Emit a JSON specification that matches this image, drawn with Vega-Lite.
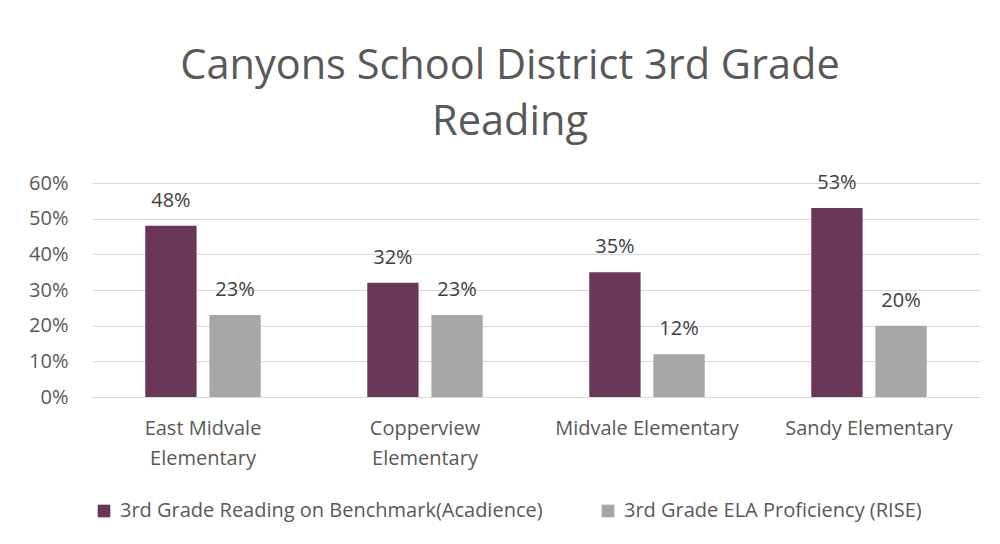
{
  "$schema": "https://vega.github.io/schema/vega-lite/v6.json",
  "autosize": {"type": "none"},
  "width": 888,
  "height": 214,
  "padding": {"left": 92, "top": 183, "right": 20, "bottom": 147},
  "background": "white",
  "title": {
    "text": ["Canyons School District 3rd Grade", "Reading"],
    "font": "Open Sans",
    "fontSize": 41.5,
    "fontWeight": "normal",
    "color": "#595959",
    "lineHeight": 56,
    "dx": -26,
    "offset": 29
  },
  "data": {
    "values": [
      {"school": "East Midvale Elementary", "series": "3rd Grade Reading on Benchmark(Acadience)", "value": 0.48},
      {"school": "East Midvale Elementary", "series": "3rd Grade ELA Proficiency (RISE)", "value": 0.23},
      {"school": "Copperview Elementary", "series": "3rd Grade Reading on Benchmark(Acadience)", "value": 0.32},
      {"school": "Copperview Elementary", "series": "3rd Grade ELA Proficiency (RISE)", "value": 0.23},
      {"school": "Midvale Elementary", "series": "3rd Grade Reading on Benchmark(Acadience)", "value": 0.35},
      {"school": "Midvale Elementary", "series": "3rd Grade ELA Proficiency (RISE)", "value": 0.12},
      {"school": "Sandy Elementary", "series": "3rd Grade Reading on Benchmark(Acadience)", "value": 0.53},
      {"school": "Sandy Elementary", "series": "3rd Grade ELA Proficiency (RISE)", "value": 0.20}
    ]
  },
  "encoding": {
    "x": {
      "field": "school",
      "type": "nominal",
      "sort": null,
      "scale": {"paddingInner": 0.48, "paddingOuter": 0.24},
      "axis": {
        "title": null,
        "labelAngle": 0,
        "labelFont": "Open Sans",
        "labelFontSize": 20,
        "labelColor": "#595959",
        "labelPadding": 21,
        "labelLineHeight": 30,
        "labelBaseline": "top",
        "labelLimit": 260,
        "ticks": false,
        "domainColor": "#d9d9d9",
        "domainWidth": 1,
        "labelExpr": "length(datum.label) > 20 ? [substring(datum.label, 0, lastindexof(datum.label, ' ')), substring(datum.label, lastindexof(datum.label, ' ') + 1)] : datum.label"
      }
    },
    "xOffset": {
      "field": "series",
      "type": "nominal",
      "sort": ["3rd Grade Reading on Benchmark(Acadience)", "3rd Grade ELA Proficiency (RISE)"],
      "scale": {"paddingInner": 0.2, "paddingOuter": 0}
    },
    "y": {
      "field": "value",
      "type": "quantitative",
      "scale": {"domain": [0, 0.6], "nice": false},
      "axis": {
        "title": null,
        "format": ".0%",
        "values": [0, 0.1, 0.2, 0.3, 0.4, 0.5, 0.6],
        "labelFont": "Open Sans",
        "labelFontSize": 20,
        "labelColor": "#595959",
        "labelPadding": 24,
        "ticks": false,
        "domain": false,
        "gridColor": "#d9d9d9",
        "gridWidth": 1
      }
    }
  },
  "layer": [
    {
      "mark": {"type": "bar"},
      "encoding": {
        "color": {
          "field": "series",
          "type": "nominal",
          "sort": ["3rd Grade Reading on Benchmark(Acadience)", "3rd Grade ELA Proficiency (RISE)"],
          "scale": {"range": ["#6B3759", "#A6A6A6"]},
          "legend": {
            "title": null,
            "orient": "none",
            "legendX": 2,
            "legendY": 318,
            "direction": "horizontal",
            "symbolType": "square",
            "symbolSize": 160,
            "symbolStrokeWidth": 0,
            "labelFont": "Open Sans",
            "labelFontSize": 20,
            "labelColor": "#595959",
            "labelLimit": 600,
            "labelOffset": 6,
            "columnPadding": 55
          }
        }
      }
    },
    {
      "mark": {"type": "text", "dy": -25, "font": "Open Sans", "fontSize": 20, "color": "#404040"},
      "encoding": {
        "text": {"field": "value", "type": "quantitative", "format": ".0%"}
      }
    }
  ],
  "config": {
    "view": {"stroke": null}
  }
}
